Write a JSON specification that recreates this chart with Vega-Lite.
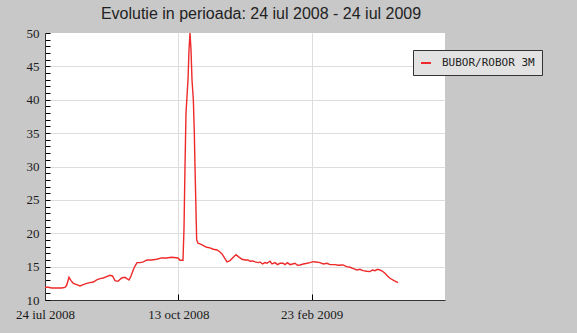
{
  "$schema": "https://vega.github.io/schema/vega-lite/v6.json",
  "width": 400,
  "height": 267,
  "autosize": {"type": "none"},
  "padding": {"left": 45, "top": 33, "right": 132, "bottom": 33},
  "background": "#c8c8c8",
  "title": {
    "text": "Evolutie in perioada: 24 iul 2008 - 24 iul 2009",
    "font": "Liberation Sans",
    "fontSize": 16,
    "fontWeight": "normal",
    "color": "#222222",
    "anchor": "middle",
    "frame": "group",
    "dx": 16,
    "offset": 5
  },
  "data": {
    "values": [
      {"zi": 0, "rata": 11.9}, {"zi": 2, "rata": 11.9}, {"zi": 4, "rata": 11.8}, {"zi": 6, "rata": 11.8},
      {"zi": 8, "rata": 11.8}, {"zi": 10, "rata": 11.8}, {"zi": 12, "rata": 11.9}, {"zi": 13, "rata": 12.2},
      {"zi": 14.4, "rata": 13.4}, {"zi": 15.6, "rata": 12.9}, {"zi": 17, "rata": 12.5}, {"zi": 19, "rata": 12.3},
      {"zi": 21, "rata": 12.1}, {"zi": 23, "rata": 12.3}, {"zi": 25, "rata": 12.5}, {"zi": 27, "rata": 12.6},
      {"zi": 29, "rata": 12.7}, {"zi": 31, "rata": 13.0}, {"zi": 33, "rata": 13.2}, {"zi": 35, "rata": 13.3},
      {"zi": 37, "rata": 13.5}, {"zi": 39, "rata": 13.7}, {"zi": 40.5, "rata": 13.6}, {"zi": 42, "rata": 12.9},
      {"zi": 43.8, "rata": 12.8}, {"zi": 46, "rata": 13.3}, {"zi": 48, "rata": 13.4}, {"zi": 50.4, "rata": 13.0},
      {"zi": 51.6, "rata": 13.6}, {"zi": 53.4, "rata": 14.8}, {"zi": 55.2, "rata": 15.6}, {"zi": 57, "rata": 15.6},
      {"zi": 59, "rata": 15.7}, {"zi": 61.2, "rata": 16.0}, {"zi": 64, "rata": 16.0}, {"zi": 67, "rata": 16.1},
      {"zi": 70, "rata": 16.3}, {"zi": 73, "rata": 16.3}, {"zi": 76, "rata": 16.4}, {"zi": 79.8, "rata": 16.3},
      {"zi": 81, "rata": 15.95}, {"zi": 82.8, "rata": 15.95}, {"zi": 83.4, "rata": 20.7}, {"zi": 84, "rata": 30},
      {"zi": 84.6, "rata": 38}, {"zi": 85.8, "rata": 43}, {"zi": 86.4, "rata": 47.5}, {"zi": 87, "rata": 50},
      {"zi": 87.6, "rata": 47.5}, {"zi": 88.2, "rata": 43}, {"zi": 89, "rata": 40}, {"zi": 89.6, "rata": 35},
      {"zi": 90, "rata": 30}, {"zi": 91, "rata": 19}, {"zi": 91.8, "rata": 18.5}, {"zi": 93, "rata": 18.4},
      {"zi": 94.8, "rata": 18.2}, {"zi": 97, "rata": 17.9}, {"zi": 99, "rata": 17.8}, {"zi": 101, "rata": 17.6},
      {"zi": 103.2, "rata": 17.5}, {"zi": 105, "rata": 17.2}, {"zi": 106.2, "rata": 16.9}, {"zi": 108, "rata": 16.2},
      {"zi": 109.2, "rata": 15.7}, {"zi": 111, "rata": 15.9}, {"zi": 113, "rata": 16.4}, {"zi": 114.6, "rata": 16.8},
      {"zi": 116, "rata": 16.5}, {"zi": 118.2, "rata": 16.1}, {"zi": 120, "rata": 16.0}, {"zi": 121.8, "rata": 16.0},
      {"zi": 123, "rata": 15.8}, {"zi": 124.8, "rata": 15.85}, {"zi": 126, "rata": 15.7}, {"zi": 128, "rata": 15.6},
      {"zi": 129, "rata": 15.7}, {"zi": 130.5, "rata": 15.4}, {"zi": 132, "rata": 15.6}, {"zi": 133.2, "rata": 15.5},
      {"zi": 135, "rata": 15.8}, {"zi": 136.2, "rata": 15.4}, {"zi": 138, "rata": 15.6}, {"zi": 139.5, "rata": 15.3},
      {"zi": 141, "rata": 15.5}, {"zi": 142.8, "rata": 15.5}, {"zi": 144, "rata": 15.3}, {"zi": 145.5, "rata": 15.6},
      {"zi": 147, "rata": 15.3}, {"zi": 148.5, "rata": 15.4}, {"zi": 150, "rata": 15.5}, {"zi": 151.5, "rata": 15.2},
      {"zi": 153, "rata": 15.25}, {"zi": 155, "rata": 15.4}, {"zi": 157.2, "rata": 15.5}, {"zi": 159, "rata": 15.6},
      {"zi": 160.8, "rata": 15.75}, {"zi": 162.5, "rata": 15.7}, {"zi": 165, "rata": 15.6}, {"zi": 167, "rata": 15.4},
      {"zi": 169.2, "rata": 15.5}, {"zi": 171, "rata": 15.3}, {"zi": 174, "rata": 15.3}, {"zi": 176, "rata": 15.2},
      {"zi": 178.8, "rata": 15.25}, {"zi": 181, "rata": 15.0}, {"zi": 183, "rata": 14.9}, {"zi": 185, "rata": 14.7},
      {"zi": 187.2, "rata": 14.5}, {"zi": 189, "rata": 14.6}, {"zi": 190.8, "rata": 14.4}, {"zi": 193, "rata": 14.3},
      {"zi": 195, "rata": 14.25}, {"zi": 196.5, "rata": 14.5}, {"zi": 198, "rata": 14.4}, {"zi": 199.5, "rata": 14.6},
      {"zi": 201, "rata": 14.5}, {"zi": 202.5, "rata": 14.3}, {"zi": 204, "rata": 14.0}, {"zi": 205.5, "rata": 13.6},
      {"zi": 207, "rata": 13.25}, {"zi": 209.4, "rata": 12.9}, {"zi": 211.8, "rata": 12.6}
    ]
  },
  "mark": {"type": "line", "strokeWidth": 1.4, "clip": true},
  "encoding": {
    "x": {
      "field": "zi",
      "type": "quantitative",
      "scale": {"domain": [0, 240], "nice": false, "zero": false},
      "axis": {
        "title": null,
        "values": [0, 80, 160],
        "labelExpr": "datum.value == 0 ? '24 iul 2008' : datum.value == 80 ? '13 oct 2008' : '23 feb 2009'",
        "labelFlush": false,
        "labelFont": "Liberation Serif",
        "labelFontSize": 13,
        "labelColor": "#1a1a1a",
        "labelPadding": 14,
        "ticks": true,
        "tickSize": -6,
        "tickWidth": 1,
        "tickColor": "#000000",
        "domainColor": "#333333",
        "grid": true,
        "gridColor": "#dddddd",
        "gridOpacity": {"condition": {"test": "datum.value > 0", "value": 1}, "value": 0}
      }
    },
    "y": {
      "field": "rata",
      "type": "quantitative",
      "scale": {"domain": [10, 50], "nice": false, "zero": false},
      "axis": {
        "title": null,
        "values": [10, 11, 12, 13, 14, 15, 16, 17, 18, 19, 20, 21, 22, 23, 24, 25, 26, 27, 28, 29, 30, 31, 32, 33, 34, 35, 36, 37, 38, 39, 40, 41, 42, 43, 44, 45, 46, 47, 48, 49, 50],
        "labelExpr": "datum.value % 5 === 0 ? datum.label : ''",
        "labelFont": "Liberation Serif",
        "labelFontSize": 13,
        "labelColor": "#1a1a1a",
        "labelPadding": 11,
        "ticks": true,
        "tickSize": -5,
        "tickWidth": 1,
        "tickColor": "#000000",
        "domainColor": "#333333",
        "grid": true,
        "gridColor": "#dddddd",
        "gridOpacity": {"condition": {"test": "datum.value % 5 === 0 && datum.value > 10 && datum.value < 50", "value": 1}, "value": 0}
      }
    },
    "color": {
      "datum": "BUBOR/ROBOR 3M",
      "scale": {"range": ["#ee2a2a"]},
      "legend": {
        "title": null,
        "orient": "none",
        "legendX": 368,
        "legendY": 17,
        "fillColor": "#e2e2e2",
        "strokeColor": "#333333",
        "padding": 7,
        "symbolType": "stroke",
        "symbolStrokeWidth": 2,
        "symbolSize": 100,
        "labelFont": "DejaVu Sans Mono",
        "labelFontSize": 11,
        "labelColor": "#222222",
        "labelOffset": 10
      }
    }
  },
  "config": {"view": {"fill": "white", "stroke": null}}
}
